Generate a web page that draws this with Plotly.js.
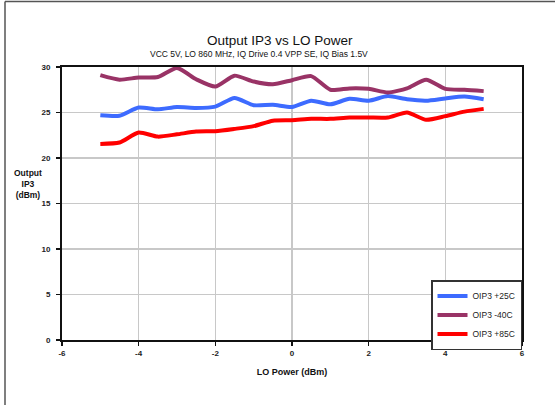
<!DOCTYPE html>
<html>
<head>
<meta charset="utf-8">
<script src="https://cdn.plot.ly/plotly-3.0.1.min.js"></script>
<style>
html,body{margin:0;padding:0;background:#fff;}
#chart{width:555px;height:405px;}
</style>
</head>
<body>
<div id="chart"></div>
<script>
// LO power (dBm)
const loPower = [-5,-4.5,-4,-3.5,-3,-2.5,-2,-1.5,-1,-0.5,0,0.5,1,1.5,2,2.5,3,3.5,4,4.5,5];
// Output IP3 (dBm)
const oip3_25C = [24.7,24.65,25.55,25.35,25.6,25.5,25.65,26.6,25.8,25.85,25.6,26.3,25.9,26.5,26.3,26.8,26.45,26.3,26.55,26.75,26.45];
const oip3_m40C = [29.1,28.6,28.85,28.9,29.9,28.65,27.85,29.05,28.4,28.1,28.55,29.0,27.5,27.65,27.6,27.2,27.65,28.6,27.6,27.5,27.35];
const oip3_85C = [21.55,21.7,22.8,22.35,22.6,22.9,22.95,23.2,23.5,24.1,24.15,24.3,24.3,24.45,24.45,24.45,25.0,24.2,24.6,25.1,25.4];
const seriesNames = ['OIP3 +25C','OIP3 -40C','OIP3 +85C'];
const xTickVals = [-6,-4,-2,0,2,4,6];
const yTickVals = [0,5,10,15,20,25,30];

const W = 555, H = 405;
const M = {l:62, r:33, t:67, b:65};
const pw = W - M.l - M.r, ph = H - M.t - M.b;
const px = v => (v - M.l) / pw;        // pixel x -> paper x
const py = v => (H - M.b - v) / ph;    // pixel y -> paper y

const font = 'Liberation Sans, Arial, sans-serif';
const mk = (y, name, color) => ({
  x: loPower, y: y, name: name, type: 'scatter', mode: 'lines',
  line: {color: color, width: 4, shape: 'spline', smoothing: 0.6}
});

const data = [
  mk(oip3_25C, seriesNames[0], '#3d6bff'),
  mk(oip3_m40C, seriesNames[1], '#993366'),
  mk(oip3_85C, seriesNames[2], '#ff0000')
];

const layout = {
  width: W, height: H,
  margin: M,
  paper_bgcolor: '#fff', plot_bgcolor: '#fff',
  font: {family: font, size: 8, color: '#222'},
  showlegend: true,
  legend: {
    x: px(431), y: py(280), xanchor: 'left', yanchor: 'top',
    bgcolor: '#fff', bordercolor: '#333', borderwidth: 1.5,
    font: {family: font, size: 8.5, color: '#222'},
    itemwidth: 30, tracegroupgap: 0
  },
  xaxis: {
    range: [-6, 6], tickvals: xTickVals, ticktext: xTickVals.map(String),
    showgrid: true, gridcolor: '#c8c8c8', gridwidth: 1.5,
    zeroline: false, showline: true, linecolor: '#111', linewidth: 2, mirror: true,
    ticks: 'outside', ticklen: 4, tickcolor: '#111', tickwidth: 1.5,
    tickfont: {family: font, size: 8, color: '#222', weight: 'bold'},
    title: {text: 'LO Power (dBm)', font: {family: font, size: 9, color: '#111', weight: 'bold'}, standoff: 12}
  },
  yaxis: {
    range: [0, 30], tickvals: yTickVals, ticktext: yTickVals.map(String),
    showgrid: true, gridcolor: '#c8c8c8', gridwidth: 1.5,
    zeroline: false, showline: true, linecolor: '#111', linewidth: 2, mirror: true,
    ticks: 'outside', ticklen: 4, tickcolor: '#111', tickwidth: 1.5, ticklabelstandoff: 4,
    tickfont: {family: font, size: 8, color: '#222', weight: 'bold'}
  },
  annotations: [
    {text: 'Output IP3 vs LO Power', xref: 'paper', yref: 'paper', x: px(280), y: py(41),
     xanchor: 'center', yanchor: 'middle', showarrow: false,
     font: {family: font, size: 13.5, color: '#111'}},
    {text: 'VCC 5V, LO 860 MHz, IQ Drive 0.4 VPP SE, IQ Bias 1.5V', xref: 'paper', yref: 'paper',
     x: px(259), y: py(54), xanchor: 'center', yanchor: 'middle', showarrow: false,
     font: {family: font, size: 8.5, color: '#111'}},
    {text: 'Output<br>IP3<br>(dBm)', xref: 'paper', yref: 'paper', x: px(28), y: py(184),
     xanchor: 'center', yanchor: 'middle', showarrow: false, align: 'center',
     font: {family: font, size: 8.5, color: '#111', weight: 'bold'}}
  ],
  shapes: [
    {type: 'line', xref: 'paper', yref: 'paper', x0: px(5), x1: px(5), y0: py(1.5), y1: py(405), line: {color: '#555', width: 1.5}},
    {type: 'line', xref: 'paper', yref: 'paper', x0: px(5), x1: px(555), y0: py(1.5), y1: py(1.5), line: {color: '#555', width: 1.5}}
  ]
};

Plotly.newPlot('chart', data, layout, {displayModeBar: false, staticPlot: true});
</script>
</body>
</html>
